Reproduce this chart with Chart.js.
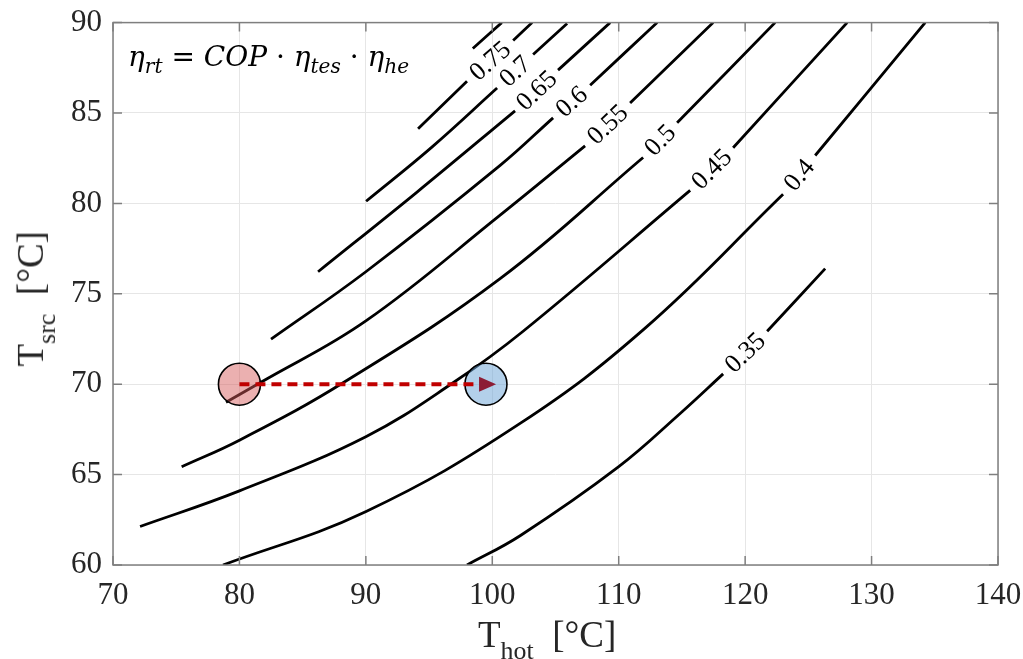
<!DOCTYPE html>
<html>
<head>
<meta charset="utf-8">
<script src="https://cdn.jsdelivr.net/npm/chart.js@4"></script>
<style>
  html, body { margin: 0; padding: 0; background: #fff; }
  #wrap { position: relative; width: 1023px; height: 659px; }
  canvas { position: absolute; left: 0; top: 0; }
  .ttl { position: absolute; font-family: 'Liberation Serif', serif; color: #262626; white-space: nowrap; line-height: 1; }
  .ttl sub { font-size: 70%; vertical-align: -0.45em; }
  #xt { left: 478px; top: 616px; font-size: 37px; }
  #yt { left: -32px; top: 275px; font-size: 37px; transform: rotate(-90deg); transform-origin: center center; }
  #eq { position: absolute; left: 128px; top: 43px; font-family: 'DejaVu Serif', serif; font-size: 28px; color: #000; white-space: nowrap; line-height: 1; }
  #eq i { font-style: italic; }
  #eq sub { font-size: 72%; vertical-align: -0.35em; font-style: italic; }
</style>
</head>
<body>
<div id="wrap">
  <canvas id="chart" width="1023" height="659"></canvas>
  <div class="ttl" id="xt">T<sub>hot</sub>&nbsp; [°C]</div>
  <div class="ttl" id="yt">T<sub>src</sub>&nbsp; [°C]</div>
  <div id="eq"><i>η</i><sub>rt</sub> = <i>COP</i> · <i>η</i><sub>tes</sub> · <i>η</i><sub>he</sub></div>
</div>
<script>
// iso-lines of round-trip efficiency as [T_hot, T_src]
const levelLabels = ['0.8', '0.75', '0.7', '0.65', '0.6', '0.55', '0.5', '0.45', '0.4', '0.35'];

const c080 = [[98.46, 88.57], [100.75, 90]];
const c075 = [[94.13, 84.13], [98.0, 86.76], [101.65, 89.01], [103.15, 90.0]];
const c070 = [[90.02, 80.12], [95.2, 83.1], [100.38, 86.38], [103.23, 88.24], [105.92, 89.95]];
const c065 = [[86.22, 76.22], [94.0, 80.6], [101.8, 85.12], [105.2, 87.37], [109.32, 90]];
const c060 = [[82.5, 72.49], [90, 76.22], [100.62, 82.1], [104.81, 84.73], [107.74, 86.54], [113.04, 90]];
const c055 = [[78.94, 69.0], [81.63, 70.08], [90, 73.5], [100.62, 79.35], [107.34, 83.18], [110.9, 85.55], [117.47, 90]];
const c050 = [[75.43, 65.43], [80, 66.9], [88.2, 70.08], [100.62, 75.84], [111.93, 82.54], [114.62, 84.46], [122.37, 90]];
const c045 = [[72.14, 62.13], [80, 64.1], [90, 67.1], [96.9, 70.08], [102.44, 72.93], [115.65, 80.72], [119.05, 83.08], [128.07, 90]];
const c040 = [[78.7, 60], [90.02, 62.96], [102.2, 67.83], [112.09, 73.1], [123.0, 80.5], [125.54, 82.65], [134.24, 90]];
const c035 = [[98.0, 60], [102.2, 61.62], [109.95, 65.41], [114.86, 68.38], [118.26, 70.57], [121.74, 72.93], [126.33, 76.39]];

const curves = [c080, c075, c070, c065, c060, c055, c050, c045, c040, c035];
// label sits between point k and k+1 of each curve (null = no label)
const labelGap = [null, 1, 2, 2, 3, 4, 4, 5, 4, 4];

// operating points and the shift between them
const pointsX = [80, 99.5];
const pointsY = [70, 70];
const arrowX = [80, 100.3];
const arrowY = [70, 70];

const xTicks = [70, 80, 90, 100, 110, 120, 130, 140];
const yTicks = [60, 65, 70, 75, 80, 85, 90];

const toXY = arr => arr.map(p => ({ x: p[0], y: p[1] }));

const datasets = [];
const labelPairs = [];

curves.forEach((c, i) => {
    const k = labelGap[i];
    const parts = k === null ? [c] : [c.slice(0, k + 1), c.slice(k + 1)];
    parts.forEach((part, j) => {
        datasets.push({
            data: toXY(part),
            showLine: true,
            borderColor: '#000',
            borderWidth: 2.8,
            pointRadius: 0,
            tension: 0.4,
            order: 3
        });
        if (k !== null && j === 0) labelPairs.push({ ds: datasets.length - 1, text: levelLabels[i] });
    });
});

datasets.push({
    data: [{ x: pointsX[0], y: pointsY[0] }],
    showLine: false,
    pointRadius: 21,
    pointBackgroundColor: 'rgba(214, 90, 90, 0.48)',
    pointBorderColor: '#000',
    pointBorderWidth: 1.6,
    order: 2
});
datasets.push({
    data: [{ x: pointsX[1], y: pointsY[1] }],
    showLine: false,
    pointRadius: 21,
    pointBackgroundColor: 'rgba(110, 165, 215, 0.52)',
    pointBorderColor: '#000',
    pointBorderWidth: 1.6,
    order: 2
});
datasets.push({
    data: [{ x: arrowX[0], y: arrowY[0] }, { x: arrowX[1] - 1.3, y: arrowY[1] }],
    showLine: true,
    borderColor: '#c00000',
    borderWidth: 4,
    borderDash: [10, 6],
    pointRadius: 0,
    order: 1
});

// contour labels, rotated along the gap they sit in
const contourLabels = {
    id: 'contourLabels',
    afterDatasetsDraw(chart) {
        const ctx = chart.ctx;
        ctx.save();
        ctx.font = '26px "Liberation Serif"';
        ctx.fillStyle = '#000';
        ctx.textAlign = 'center';
        ctx.textBaseline = 'middle';
        labelPairs.forEach(l => {
            const a = chart.getDatasetMeta(l.ds).data;
            const b = chart.getDatasetMeta(l.ds + 1).data;
            const p1 = a[a.length - 1], p2 = b[0];
            const ang = Math.atan2(p2.y - p1.y, p2.x - p1.x);
            ctx.save();
            ctx.translate((p1.x + p2.x) / 2, (p1.y + p2.y) / 2);
            ctx.rotate(ang);
            ctx.fillText(l.text, 0, 1);
            ctx.restore();
        });

        // arrow head at the hot point
        const xs = chart.scales.x, ys = chart.scales.y;
        const tx = xs.getPixelForValue(arrowX[1]), ty = ys.getPixelForValue(arrowY[1]);
        ctx.fillStyle = '#8c1c34';
        ctx.beginPath();
        ctx.moveTo(tx, ty);
        ctx.lineTo(tx - 17, ty - 7.5);
        ctx.lineTo(tx - 17, ty + 7.5);
        ctx.closePath();
        ctx.fill();
        ctx.restore();
    }
};

// box and inward ticks, MATLAB style
const boxFrame = {
    id: 'boxFrame',
    afterDraw(chart) {
        const { ctx, chartArea: a } = chart;
        const xs = chart.scales.x, ys = chart.scales.y;
        ctx.save();
        ctx.strokeStyle = '#7f7f7f';
        ctx.lineWidth = 1.5;
        ctx.strokeRect(a.left, a.top, a.right - a.left, a.bottom - a.top);
        ctx.beginPath();
        xTicks.forEach(v => {
            const px = xs.getPixelForValue(v);
            ctx.moveTo(px, a.bottom); ctx.lineTo(px, a.bottom - 9);
            ctx.moveTo(px, a.top); ctx.lineTo(px, a.top + 9);
        });
        yTicks.forEach(v => {
            const py = ys.getPixelForValue(v);
            ctx.moveTo(a.left, py); ctx.lineTo(a.left + 9, py);
            ctx.moveTo(a.right, py); ctx.lineTo(a.right - 9, py);
        });
        ctx.stroke();
        ctx.restore();
    }
};

const tickFont = { family: 'Liberation Serif', size: 31 };

new Chart(document.getElementById('chart'), {
    type: 'scatter',
    data: { datasets: datasets },
    options: {
        responsive: false,
        animation: false,
        layout: { padding: { top: 19, right: 25, left: 0, bottom: 0 } },
        plugins: { legend: { display: false }, tooltip: { enabled: false } },
        scales: {
            x: {
                type: 'linear',
                min: 70,
                max: 140,
                afterBuildTicks: s => { s.ticks = xTicks.map(v => ({ value: v })); },
                afterFit: s => { s.height = 94; s.paddingLeft = 0; s.paddingRight = 0; },
                ticks: { font: tickFont, color: '#262626', padding: 12 },
                grid: { color: '#e6e6e6', lineWidth: 1, drawTicks: false },
                border: { display: false }
            },
            y: {
                type: 'linear',
                min: 60,
                max: 90,
                afterBuildTicks: s => { s.ticks = yTicks.map(v => ({ value: v })); },
                afterFit: s => { s.width = 113; s.paddingTop = 0; s.paddingBottom = 0; },
                ticks: { font: tickFont, color: '#262626', padding: 11 },
                grid: { color: '#e6e6e6', lineWidth: 1, drawTicks: false },
                border: { display: false }
            }
        }
    },
    plugins: [contourLabels, boxFrame]
});
</script>
</body>
</html>
